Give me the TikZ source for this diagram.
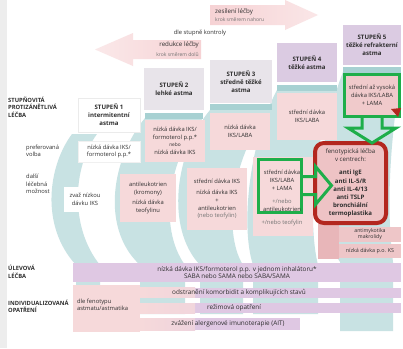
\documentclass[tikz,border=0pt]{standalone}
\usepackage{fontspec}
\setmainfont{Open Sans}
\usetikzlibrary{positioning}

\definecolor{tealband}{HTML}{C8E2E3}
\definecolor{tealbar}{HTML}{A7D1D2}
\definecolor{hdrgray}{HTML}{E8E4EA}
\definecolor{hdrlila}{HTML}{DBCBE2}
\definecolor{boxpink}{HTML}{F6D9DA}
\definecolor{deeppink}{HTML}{EEC3C5}
\definecolor{shadepink}{HTML}{E8B6B9}
\definecolor{arrowpink}{HTML}{F6D2D4}
\definecolor{barlila}{HTML}{DFC8E3}
\definecolor{okgreen}{HTML}{1EAE4A}
\definecolor{alertred}{HTML}{B3271F}
\definecolor{txtgray}{HTML}{2E2E2E}

\begin{document}
\begin{tikzpicture}[x=1pt,y=-1pt,
    every node/.style={text=txtgray},
    hdr/.style={fill=hdrgray,inner sep=0pt,align=center,font=\fontsize{6.1}{8}\selectfont\bfseries},
    cell/.style={fill=boxpink,inner sep=0pt,align=center,font=\fontsize{5.8}{7.6}\selectfont},
    side/.style={anchor=north west,inner sep=0pt,align=left,font=\fontsize{5.8}{7.4}\selectfont},
    sidecap/.style={side,font=\fontsize{5.8}{7.6}\selectfont\bfseries},
    band/.style={fill=tealband},
    greenline/.style={draw=okgreen,line width=3pt},
    ibar/.style={fill=barlila,inner sep=0pt,anchor=west,
        path picture={\shade[left color=boxpink,right color=barlila]
            (path picture bounding box.south west) rectangle ([xshift=55pt]path picture bounding box.north west);}},
    bartxt/.style={inner sep=0pt,font=\fontsize{6.4}{7.6}\selectfont}]

    \useasboundingbox (0,0) rectangle (403,348);
    \fill[white] (0,0) rectangle (403,348);
    \fill[black!7] (0,0) rectangle (7,348);

    % sloupce v pozadi
    \fill[band] (72,134) .. controls (48,166) and (40,226) .. (76,265) -- (76,314) -- (100,314) -- (100,265) .. controls (70,228) and (72,168) .. (97,134) -- cycle;
    \fill[band] (145,118) .. controls (112,158) and (100,228) .. (140,265) -- (140,314) -- (185,314) -- (185,265) .. controls (158,228) and (168,158) .. (203,118) -- cycle;
    \fill[band] (210,110) .. controls (175,152) and (165,228) .. (200,265) -- (200,314) -- (243,314) -- (243,265) .. controls (222,232) and (232,150) .. (272,110) -- cycle;
    \fill[band] (277,90) .. controls (250,140) and (240,225) .. (253,265) -- (253,314) -- (318,314) -- (318,265) .. controls (308,225) and (312,140) .. (337,90) -- cycle;
    \fill[band] (343,72) .. controls (322,125) and (308,215) .. (340,262) -- (340,331) -- (393,331) -- (393,262) .. controls (385,200) and (392,130) .. (401,72) -- cycle;

    \fill[tealbar] (145,113) rectangle (203,119);
    \fill[tealbar] (210,104) rectangle (272,110);
    \fill[tealbar] (277,85) rectangle (337,91);
    \fill[tealbar] (343,67) rectangle (401,73);

    % sipky nahore
    \shade[left color=arrowpink,right color=arrowpink!55] (210,5) -- (285,5) -- (285,0) -- (318,15) -- (285,30) -- (285,25) -- (210,25) -- cycle;
    \shade[left color=arrowpink!50,right color=arrowpink] (201,40) -- (133,40) -- (133,33) -- (95,49.5) -- (133,66) -- (133,59) -- (201,59) -- cycle;

    \node[anchor=west,inner sep=0pt,font=\fontsize{6.2}{6.5}\selectfont] (upMain) at (215,11.5) {zesílení léčby};
    \node[anchor=west,inner sep=0pt,font=\fontsize{5}{5.4}\selectfont,text=black!55] (upSub) at (215,19.5) {krok směrem nahoru};
    \node[inner sep=0pt,font=\fontsize{5.8}{6}\selectfont] (ctrl) at (200,33) {dle stupně kontroly};
    \node[anchor=east,inner sep=0pt,font=\fontsize{6.2}{6.5}\selectfont] (downMain) at (199,45) {redukce léčby};
    \node[anchor=east,inner sep=0pt,font=\fontsize{5}{5.4}\selectfont,text=black!55] (downSub) at (199,54) {krok směrem dolů};

    % popisky vlevo
    \node[sidecap] (lblStep) at (8,96.5) {STUPŇOVITÁ\\PROTIZÁNĚTLIVÁ\\LÉČBA};
    \node[side] (lblPref) at (26,144.5) {preferovaná\\volba};
    \node[side] (lblAlt) at (26,174) {další\\léčebná\\možnost};
    \node[sidecap] (lblRelief) at (8,265) {ÚLEVOVÁ\\LÉČBA};
    \node[sidecap] (lblIndiv) at (8,299.5) {INDIVIDUALIZOVANÁ\\OPATŘENÍ};

    % stupne
    \node[hdr,fill=white,draw=black!8,minimum width=62,minimum height=34] (st1) at (109,115) {STUPEŇ 1\\intermitentní\\astma};
    \node[hdr,minimum width=60,minimum height=42] (st2) at (174,89) {STUPEŇ 2\\lehké astma};
    \node[hdr,minimum width=62,minimum height=43] (st3) at (241,81.5) {STUPEŇ 3\\středně těžké\\astma};
    \node[hdr,fill=hdrlila,minimum width=60,minimum height=39] (st4) at (307,62.5) {STUPEŇ 4\\těžké astma};
    \node[hdr,fill=hdrlila,minimum width=58,minimum height=40] (st5) at (372,45) {STUPEŇ 5\\těžké refrakterní\\astma};

    % preferovana volba
    \node[cell,fill=white,draw=black!6,minimum width=62,minimum height=21] (pref1) at (109,151.5) {nízká dávka IKS/\\formoterol p.p.*};
    \node[cell,minimum width=60,minimum height=42] (pref2) at (175,141) {nízká dávka IKS/\\formoterol p.p.*\\{\fontsize{4.8}{5}\selectfont nebo}\\nízká dávka IKS};
    \node[cell,minimum width=60,minimum height=37] (pref3) at (240,131.5) {nízká dávka\\IKS/LABA};
    \node[cell,minimum width=60,minimum height=47] (pref4) at (307,116.5) {střední dávka\\IKS/LABA};
    \node[cell,greenline,fill=deeppink!70!boxpink,minimum width=55,minimum height=42,font=\fontsize{5.8}{8}\selectfont] (pref5) at (372,95.5) {střední až vysoká\\dávka IKS/LABA\\+ LAMA};
    \fill[alertred] (391,109) -- (401,108) -- (398,117) -- cycle;

    % dalsi lecebna moznost
    \node[cell,fill=white,minimum width=42,minimum height=25] (alt1) at (85,199.5) {zvaž nízkou\\dávku IKS};
    \node[cell,minimum width=56,minimum height=48] (alt2) at (148,198) {antileukotrien\\(kromony)\\[3pt]nízká dávka\\teofylinu};
    \node[cell,minimum width=60,minimum height=62] (alt3) at (217,199) {střední dávka IKS\\[4pt]nízká dávka IKS\\+\\antileukotrien\\{\color{black!55}(nebo teofylin)}};
    \node[cell,minimum width=60,minimum height=79] (alt4) at (283,196.5) {};
    \node[greenline,inner sep=0pt,minimum width=43,minimum height=53] (alt4g) at (279.5,185.5) {};
    \node[cell,fill=none,font=\fontsize{5.8}{8}\selectfont] (alt4t) at (282,198) {střední dávka\\IKS/LABA\\+ LAMA\\[5pt]{\color{black!55}+/nebo}\\antileukotrien\\[5pt]{\color{black!55}+/nebo teofylin}};

    % stupen 5
    \fill[shadepink] (318,222) rectangle (339,259);
    \node[cell,fill=shadepink!55!boxpink,minimum width=62,minimum height=15,font=\fontsize{5.2}{6}\selectfont] (ext5a) at (370,234.5) {antimykotika\\makrolidy};
    \node[cell,fill=shadepink!55!boxpink,minimum width=62,minimum height=14,font=\fontsize{5.4}{6}\selectfont] (ext5b) at (370,251) {nízká dávka p.o. KS};
    \node[draw=alertred,line width=4pt,rounded corners=9pt,fill=deeppink,inner sep=0pt,minimum width=71,minimum height=80,align=center,font=\fontsize{6.1}{8.2}\selectfont] (feno) at (350.5,183) {fenotypická léčba\\v centrech:\\[5pt]\textbf{anti IgE}\\\textbf{anti IL-5/R}\\\textbf{anti IL-4/13}\\\textbf{anti TSLP}\\\textbf{bronchiální}\\\textbf{termoplastika}};

    % zelene sipky
    \draw[greenline,line join=miter] (pref5.south) ++(-10,0) -- ++(0,10) -- ++(-14,0) -- ++(24,15) -- ++(24,-15) -- ++(-14,0) -- ++(0,-10);
    \draw[greenline,line join=miter] (alt4g.east) ++(0,-9) -- ++(13,0) -- ++(0,-10) -- ++(16,19) -- ++(-16,19) -- ++(0,-10) -- ++(-13,0);

    % ulevova lecba a opatreni
    \node[fill=barlila,inner sep=0pt,minimum width=328,minimum height=19,align=center,font=\fontsize{6.4}{7.6}\selectfont] (relief) at (237,272.5) {nízká dávka IKS/formoterol p.p. v jednom inhalátoru*\\SABA nebo SAMA nebo SABA/SAMA};
    \fill[boxpink] (73,285) rectangle (140,332);
    \node[ibar,minimum width=261,minimum height=10] (comorb) at (140,292.5) {};
    \node[ibar,minimum width=261,minimum height=10] (regime) at (140,308) {};
    \node[ibar,minimum width=160,minimum height=12] (allergy) at (140,324) {};
    \node[bartxt] (comorbT) at (239,292.5) {odstranění komorbidit a komplikujících stavů};
    \node[bartxt] (regimeT) at (234,308) {režimová opatření};
    \node[bartxt] (allergyT) at (228,324) {zvážení alergenové imunoterapie (AIT)};
    \node[side] (pheno) at (77,298.5) {dle fenotypu\\astmatu/astmatika};
\end{tikzpicture}
\end{document}
